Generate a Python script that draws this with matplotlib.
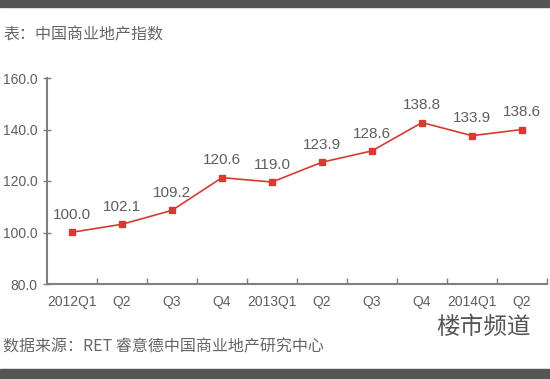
import matplotlib.pyplot as plt
from matplotlib.patches import Rectangle

plt.rcParams['font.family'] = ['Noto Sans CJK SC', 'DejaVu Sans']

quarters = ['2012Q1', 'Q2', 'Q3', 'Q4', '2013Q1', 'Q2', 'Q3', 'Q4', '2014Q1', 'Q2']
# heights as plotted in the picture
index_pos = [100.1, 103.2, 108.6, 121.3, 119.6, 127.3, 131.7, 142.7, 137.6, 140.0]
# printed labels
index_labels = ['100.0', '102.1', '109.2', '120.6', '119.0', '123.9', '128.6', '138.8', '133.9', '138.6']

yticks = [80, 100, 120, 140, 160]

gray = '#7f7f7f'
txt = '#5e5e5e'
red = '#d63b33'
num_font = ['Liberation Sans', 'DejaVu Sans']

fig = plt.figure(figsize=(5.5, 3.79), dpi=100)
fig.patch.set_facecolor('white')

# dark bands top and bottom
fig.add_artist(Rectangle((0, 1 - 7 / 379), 1, 7 / 379, transform=fig.transFigure,
                         color='#555555', zorder=0))
fig.add_artist(Rectangle((0, 0), 1, 10 / 379, transform=fig.transFigure,
                         color='#555555', zorder=0))

ax = fig.add_axes([47 / 550, 95 / 379, 500 / 550, 206 / 379])
x = list(range(len(quarters)))
ax.plot(x, index_pos, color=red, lw=1.2, marker='s', ms=5, mfc=red, mec=red)
for xi, yi, lab in zip(x, index_pos, index_labels):
    ax.annotate(lab, (xi, yi), xytext=(0, 12.5), textcoords='offset points',
                ha='center', va='center', fontsize=11, color=txt, family=num_font)

ax.set_xlim(-0.5, len(quarters) - 0.5)
ax.set_ylim(80, 160)
ax.set_yticks(yticks)
ax.set_yticklabels([f'{v:.1f}' for v in yticks], fontsize=10, color=txt, family=num_font)
ax.set_xticks([i + 0.5 for i in x])
ax.set_xticklabels([])
ax.set_xticks(x, minor=True)
ax.set_xticklabels(quarters, minor=True, fontsize=10, color=txt, family=num_font)
ax.tick_params(axis='x', which='major', direction='in', length=4, color=gray, width=1)
ax.tick_params(axis='x', which='minor', length=0, pad=8)
ax.tick_params(axis='y', direction='inout', length=6, color=gray, width=1, pad=4)

for s in ['top', 'right']:
    ax.spines[s].set_visible(False)
for s in ['left', 'bottom']:
    ax.spines[s].set_color(gray)
    ax.spines[s].set_linewidth(1.5)

fig.text(3 / 550, 1 - 35 / 379, '表：中国商业地产指数', fontsize=11.5, color='#666666',
         style='italic', va='center', ha='left')
fig.text(3 / 550, 1 - 347 / 379, '数据来源：RET 睿意德中国商业地产研究中心', fontsize=11.5,
         color='#666666', style='italic', va='center', ha='left')
fig.text(484 / 550, 1 - 328 / 379, '楼市频道', fontsize=17, color='#555555',
         fontweight='light', va='center', ha='center')

fig.savefig('out.png', dpi=100)
